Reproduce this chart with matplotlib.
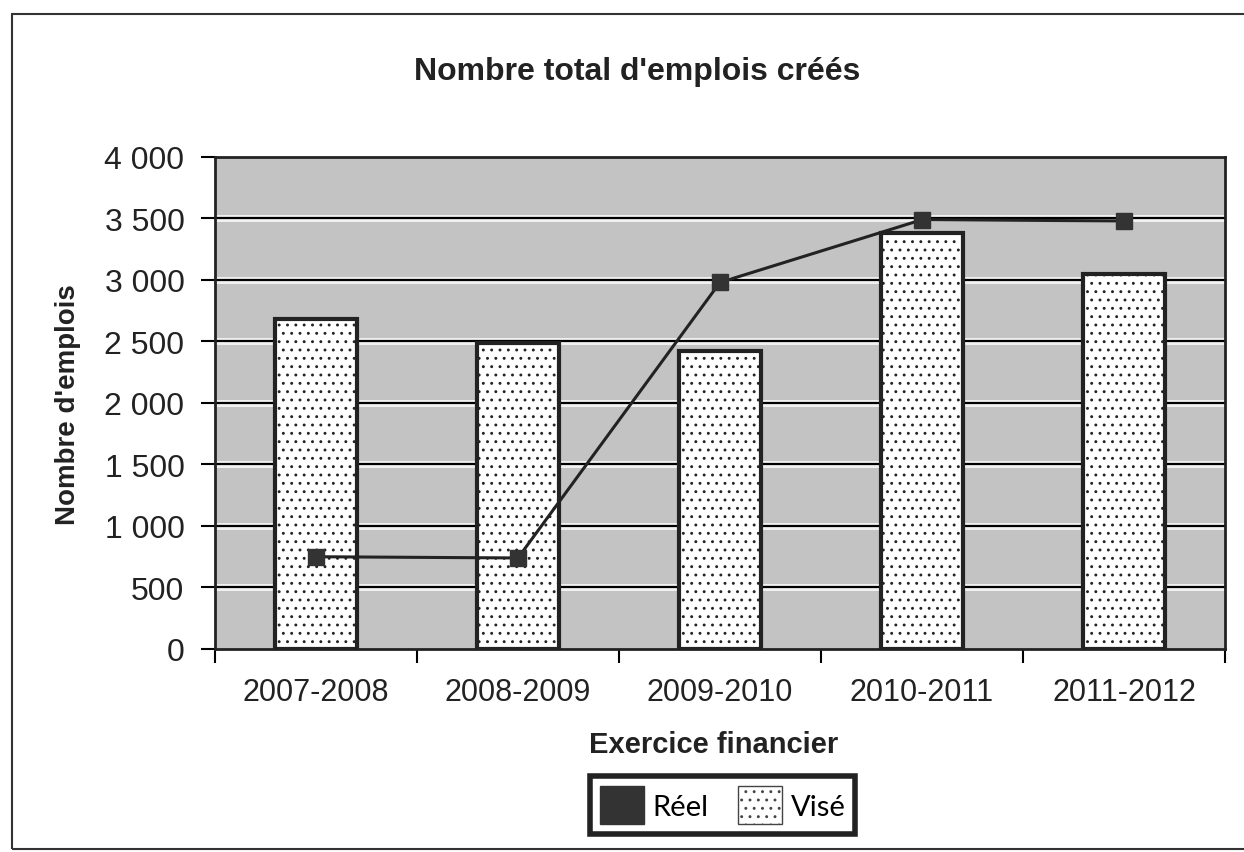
import matplotlib.pyplot as plt
import matplotlib.patheffects as pe
from matplotlib.patches import Patch, Rectangle
from matplotlib.ticker import FuncFormatter, FixedLocator

# Data
categories = ['2007-2008', '2008-2009', '2009-2010', '2010-2011', '2011-2012']
vise = [2680, 2490, 2420, 3380, 3050]     # bars (target)
reel = [750, 740, 2980, 3490, 3480]       # line (actual)
yticks = [0, 500, 1000, 1500, 2000, 2500, 3000, 3500, 4000]

plt.rcParams['font.family'] = ['Liberation Sans', 'DejaVu Sans']
plt.rcParams['hatch.linewidth'] = 0.9

fig = plt.figure(figsize=(12.44, 8.53), dpi=100)
ax = fig.add_axes([0.1728, 0.238, 0.8119, 0.5768])

gray = '#c3c3c3'
ax.set_facecolor(gray)

x = list(range(len(categories)))

# gridlines with white halo (scan look)
for v in yticks[1:-1]:
    ax.axhline(v, color='black', lw=1.6, zorder=1,
               path_effects=[pe.Stroke(linewidth=5, foreground='#f2f2f2'), pe.Normal()])

ax.bar(x, vise, width=0.41, color='white', edgecolor='#222222', linewidth=3,
       hatch='..', zorder=2)
ax.plot(x, reel, color='#222222', lw=2.2, marker='s', markersize=12,
        markerfacecolor='#333333', markeredgecolor='#333333', zorder=3)

ax.set_xlim(-0.5, 4.5)
ax.set_ylim(0, 4000)
ax.set_yticks(yticks)
ax.yaxis.set_major_formatter(FuncFormatter(lambda v, p: f'{int(v):,}'.replace(',', ' ')))
ax.tick_params(axis='y', direction='out', length=10, width=1.5, pad=12, labelsize=23,
               labelcolor='#222222')

ax.set_xticks(x)
ax.set_xticklabels(categories)
ax.xaxis.set_minor_locator(FixedLocator([i - 0.5 for i in range(len(categories) + 1)]))
ax.tick_params(axis='x', which='major', length=0, pad=20, labelsize=22,
               labelcolor='#222222')
ax.tick_params(axis='x', which='minor', direction='out', length=10, width=1.5)

for s in ax.spines.values():
    s.set_linewidth(2)
    s.set_color('#222222')

fig.text(0.512, 0.9156, "Nombre total d'emplois créés", ha='center', va='center',
         fontsize=23, fontweight='bold', color='#222222')
fig.text(0.0547, 0.526, "Nombre d'emplois", ha='center', va='center', rotation=90,
         fontsize=20, fontweight='bold', color='#222222')
fig.text(0.574, 0.1266, "Exercice financier", ha='center', va='center',
         fontsize=21, fontweight='bold', color='#222222')

handles = [Patch(facecolor='#333333', edgecolor='#333333'),
           Patch(facecolor='white', edgecolor='#444444', hatch='..')]
leg = fig.legend(handles, ['Réel', 'Visé'], loc='center', bbox_to_anchor=(0.581, 0.055),
                 ncol=2, fancybox=False, framealpha=1, edgecolor='#222222',
                 handlelength=1.5, handleheight=1.6, columnspacing=1.0, handletextpad=0.3,
                 borderpad=0.35, borderaxespad=0,
                 prop={'family': ['Lato', 'DejaVu Sans'], 'size': 21})
leg.get_frame().set_linewidth(4)

# outer border of the scanned chart
fig.add_artist(Rectangle((12 / 1244, 3 / 853), 1.1, 1 - 15 / 853 - 3 / 853,
                         transform=fig.transFigure, fill=False, edgecolor='#333333',
                         linewidth=1.5))

fig.savefig('out.png', dpi=100)
